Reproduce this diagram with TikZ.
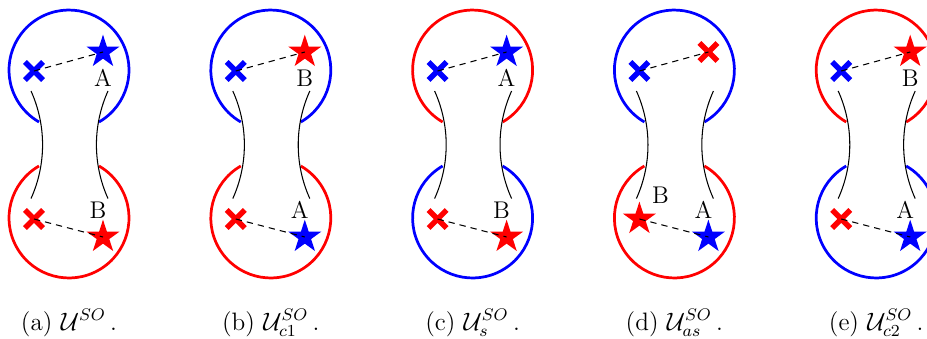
\documentclass[tikz,border=0pt]{standalone}
\usepackage{amsmath,amssymb}
\usepackage{tikz}
\usetikzlibrary{shapes.geometric,shapes.misc}
\newcommand{\capmath}[1]{$#1$\,.}
\tikzset{ring/.style={line width=1.3pt}, neck/.style={line width=0.5pt}, link/.style={dash pattern=on 3pt off 2.4pt, line width=0.5pt},
  xmark/.style={cross out, draw=#1, line width=2.6pt, minimum size=6pt, inner sep=0pt},
  smark/.style={star, star points=5, star point ratio=2.618, fill=#1, draw=none, minimum size=16.5pt, inner sep=0pt},
  lbl/.style={font=\fontsize{11.5}{13}\selectfont, inner sep=0pt}, captext/.style={anchor=base, inner sep=0pt, font=\fontsize{12}{14}\selectfont},
  pics/dumbbell/.style 2 args={code={
    \draw[ring, #1] (99,216) arc[start angle=-60, end angle=240, radius=28.56pt];
    \draw[ring, #2] (39,172) arc[start angle=120, end angle=420, radius=28.56pt];
    \draw[neck] (31,247) arc[start angle=24.3, end angle=-24.3, radius=62.2pt];
    \draw[neck] (108,247) arc[start angle=155.7, end angle=204.3, radius=62.2pt];
  }}}

\begin{document}
\begin{tikzpicture}[x=0.476pt, y=0.476pt]
\useasboundingbox (0,0) rectangle (927,338);
% (a)
\begin{scope}
\pic {dumbbell={blue}{red}};
\node[xmark=blue] (atopx) at (34,267) {};
\node[smark=blue] (atops) at (103,286) {};
\node[lbl] (atopl) at (103,260) {A};
\node[xmark=red] (abotx) at (34,119) {};
\node[smark=red] (abots) at (103,101) {};
\node[lbl] (abotl) at (98,128) {B};
\draw[link] (atopx.center) -- (atops.center);
\draw[link] (abotx.center) -- (abots.center);
\node[captext] (acap) at (69,8) {(a) \capmath{\mathcal{U}^{SO}}};
\end{scope}
% (b)
\begin{scope}[shift={(201.8,0)}]
\pic {dumbbell={blue}{red}};
\node[xmark=blue] (btopx) at (34,267) {};
\node[smark=red] (btops) at (103,286) {};
\node[lbl] (btopl) at (103,260) {B};
\node[xmark=red] (bbotx) at (34,119) {};
\node[smark=blue] (bbots) at (103,101) {};
\node[lbl] (bbotl) at (98,128) {A};
\draw[link] (btopx.center) -- (btops.center);
\draw[link] (bbotx.center) -- (bbots.center);
\node[captext] (bcap) at (69,8) {(b) \capmath{\mathcal{U}_{c1}^{SO}}};
\end{scope}
% (c)
\begin{scope}[shift={(403.6,0)}]
\pic {dumbbell={red}{blue}};
\node[xmark=blue] (ctopx) at (34,267) {};
\node[smark=blue] (ctops) at (103,286) {};
\node[lbl] (ctopl) at (103,260) {A};
\node[xmark=red] (cbotx) at (34,119) {};
\node[smark=red] (cbots) at (103,101) {};
\node[lbl] (cbotl) at (98,128) {B};
\draw[link] (ctopx.center) -- (ctops.center);
\draw[link] (cbotx.center) -- (cbots.center);
\node[captext] (ccap) at (69,8) {(c) \capmath{\mathcal{U}_{s}^{SO}}};
\end{scope}
% (d)
\begin{scope}[shift={(605.4,0)}]
\pic {dumbbell={blue}{red}};
\node[xmark=blue] (dtopx) at (34,267) {};
\node[xmark=red] (dtops) at (103,286) {};
\node[smark=red] (dbotx) at (34,119) {};
\node[lbl] (dbotxl) at (55,143) {B};
\node[smark=blue] (dbots) at (103,101) {};
\node[lbl] (dbotl) at (98,128) {A};
\draw[link] (dtopx.center) -- (dtops.center);
\draw[link] (dbotx.center) -- (dbots.center);
\node[captext] (dcap) at (69,8) {(d) \capmath{\mathcal{U}_{as}^{SO}}};
\end{scope}
% (e)
\begin{scope}[shift={(807.2,0)}]
\pic {dumbbell={red}{blue}};
\node[xmark=blue] (etopx) at (34,267) {};
\node[smark=red] (etops) at (103,286) {};
\node[lbl] (etopl) at (103,260) {B};
\node[xmark=red] (ebotx) at (34,119) {};
\node[smark=blue] (ebots) at (103,101) {};
\node[lbl] (ebotl) at (98,128) {A};
\draw[link] (etopx.center) -- (etops.center);
\draw[link] (ebotx.center) -- (ebots.center);
\node[captext] (ecap) at (69,8) {(e) \capmath{\mathcal{U}_{c2}^{SO}}};
\end{scope}
\end{tikzpicture}
\end{document}
